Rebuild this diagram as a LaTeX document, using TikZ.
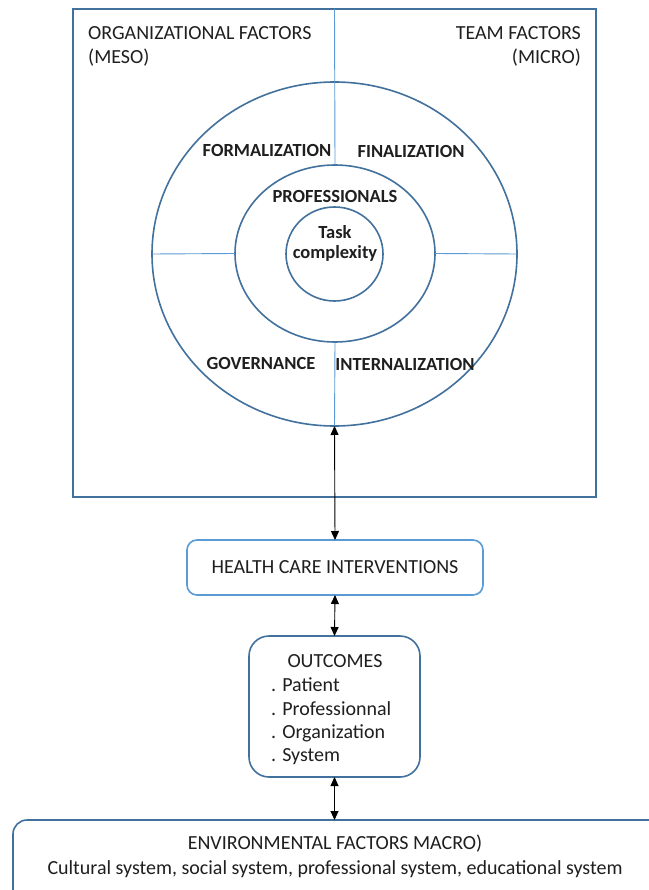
\documentclass[tikz,border=0pt]{standalone}
\usepackage{fontspec}
\setmainfont{Carlito}
\usetikzlibrary{shapes.geometric,arrows.meta}
\definecolor{frame}{HTML}{41719C}
\definecolor{divline}{HTML}{5B9BD5}
\definecolor{txt}{HTML}{1F1F1F}
\tikzset{
  ring/.style={draw=frame, line width=1.6pt, ellipse, inner sep=0pt, outer sep=0pt},
  divider/.style={draw=divline, line width=0.9pt},
  plain/.style={text=txt, font=\fontsize{20}{24}\selectfont, inner sep=0pt},
  boldlabel/.style={text=txt, font=\bfseries\fontsize{18.5}{20}\selectfont, inner sep=0pt},
  biarrow/.style={{Triangle[length=9pt,width=8pt]}-{Triangle[length=9pt,width=8pt]}, line width=0.9pt, black},
}
\begin{document}
\begin{tikzpicture}[x=1pt,y=-1pt]
\useasboundingbox (0,0) rectangle (648,890);
\fill[white] (0,0) rectangle (648,890);
% big square
\node[draw=frame, line width=1.6pt, minimum width=523pt, minimum height=488pt, inner sep=0pt, outer sep=0pt] (square) at (334.5,253) {};
% ellipses
\node[ring, minimum width=365pt, minimum height=344pt] (outer) at (334.5,254) {};
\node[ring, minimum width=200pt, minimum height=177pt] (mid) at (335,253.5) {};
\node[ring, minimum width=97pt, minimum height=94pt] (inner) at (334.5,254) {};
% dividers
\draw[divider] (square.north) -- (mid.north);
\draw[divider] (mid.south) -- (outer.south);
\draw[divider] (outer.west) -- (mid.west);
\draw[divider] (mid.east) -- (outer.east);
% corner labels
\node[plain, anchor=north west, align=left] (orgf) at (88,26) {ORGANIZATIONAL FACTORS\\(MESO)};
\node[plain, anchor=north east, align=right] (teamf) at (581,26) {TEAM FACTORS\\(MICRO)};
% ring labels
\node[boldlabel] (formal) at (267,150) {FORMALIZATION};
\node[boldlabel] (final) at (411,151) {FINALIZATION};
\node[boldlabel] (prof) at (335,196) {PROFESSIONALS};
\node[boldlabel, align=center] (task) at (335,243) {Task\\complexity};
\node[boldlabel] (gov) at (261,363) {GOVERNANCE};
\node[boldlabel] (intern) at (405,364) {INTERNALIZATION};
% health care interventions
\node[draw=divline, line width=1.6pt, rounded corners=10pt, minimum width=296pt, minimum height=55pt, outer sep=0pt, plain] (hci) at (335,567.5) {HEALTH CARE INTERVENTIONS};
% outcomes
\node[draw=frame, line width=1.6pt, rounded corners=20pt, minimum width=171pt, minimum height=141pt, outer sep=0pt, inner sep=0pt] (outc) at (334.5,706.5) {};
\node[plain] (outtitle) at (335,661) {OUTCOMES};
\node[plain, anchor=west] (o1) at (271,685) {. Patient};
\node[plain, anchor=west] (o2) at (271,709) {. Professionnal};
\node[plain, anchor=west] (o3) at (271,733) {. Organization};
\node[plain, anchor=west] (o4) at (271,757) {. System};
% environment
\node[draw=frame, line width=1.6pt, rounded corners=14pt, minimum width=660pt, minimum height=100pt, outer sep=0pt, inner sep=0pt] (env) at (343,870) {};
\node[plain] (envt1) at (335,844) {ENVIRONMENTAL FACTORS MACRO)};
\node[plain] (envt2) at (335,869) {Cultural system, social system, professional system, educational system};
% arrows
\draw[biarrow] (outer.south) -- (hci.north);
\draw[biarrow] (hci.south) -- (outc.north);
\draw[biarrow] (outc.south) -- (outc.south |- env.north);
\end{tikzpicture}
\end{document}
